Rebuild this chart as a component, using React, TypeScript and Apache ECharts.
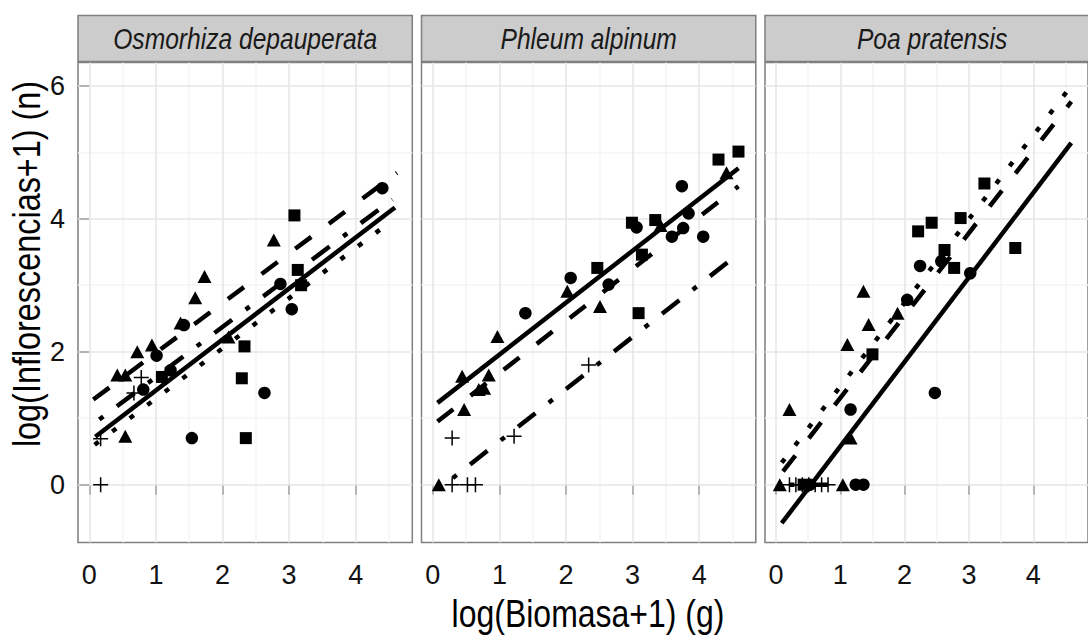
import React, { useEffect, useRef } from "react";
import * as echarts from "echarts";

// ---- tick labels / axes ----
const xTicks = [0, 1, 2, 3, 4];
const yTicks = [0, 2, 4, 6];
const xGridMajor = [0, 1, 2, 3, 4];
const xGridMinor = [0.5, 1.5, 2.5, 3.5, 4.5];
const yGridMajor = [0, 2, 4, 6];
const yGridMinor = [1, 3, 5];
const species = ["Osmorhiza depauperata", "Phleum alpinum", "Poa pratensis"];
const xTitle = "log(Biomasa+1) (g)";
const yTitle = "log(Inflorescencias+1) (n)";

// ---- Osmorhiza depauperata ----
const osmCircle = [[4.40, 4.46], [2.87, 3.02], [3.04, 2.64], [2.63, 1.38], [1.54, 0.70], [1.01, 1.94], [1.42, 2.40], [0.81, 1.43], [1.22, 1.72]];
const osmTriangle = [[2.77, 3.68], [1.73, 3.13], [1.59, 2.81], [1.37, 2.43], [0.72, 2.00], [0.94, 2.10], [0.42, 1.65], [0.54, 1.65], [0.54, 0.73], [2.09, 2.22]];
const osmSquare = [[3.08, 4.05], [3.13, 3.23], [3.18, 3.00], [2.33, 2.08], [2.29, 1.60], [2.35, 0.70], [1.09, 1.62]];
const osmPlus = [[0.17, 0], [0.17, 0.69], [0.67, 1.38], [0.78, 1.61]];
const osmSolid = [[0.09, 0.72], [4.59, 4.17]];
const osmDashed = [[0.06, 1.28], [4.62, 4.69]];
const osmDotted = [[0.08, 0.60], [4.45, 3.90]];
const osmDotDash = [[0.15, 0.98], [4.55, 4.29]];

// ---- Phleum alpinum ----
const phlCircle = [[3.74, 4.49], [3.84, 4.08], [3.06, 3.87], [3.59, 3.73], [3.76, 3.86], [4.06, 3.73], [2.07, 3.11], [2.64, 3.01], [1.39, 2.58]];
const phlTriangle = [[4.41, 4.69], [3.42, 3.90], [2.02, 2.91], [2.51, 2.68], [0.97, 2.23], [0.44, 1.63], [0.84, 1.65], [0.77, 1.45], [0.69, 1.43], [0.47, 1.13], [0.09, 0]];
const phlSquare = [[4.59, 5.01], [4.29, 4.89], [2.99, 3.94], [3.34, 3.98], [3.14, 3.46], [2.47, 3.26], [3.09, 2.58]];
const phlPlus = [[0.29, 0.70], [1.22, 0.73], [2.34, 1.80], [0.29, 0], [0.52, 0], [0.64, 0]];
const phlSolid = [[0.07, 1.23], [4.59, 4.76]];
const phlDashed = [[0.07, 0.95], [4.59, 4.49]];
const phlDotDash = [[0.30, 0.10], [4.51, 3.41]];

// ---- Poa pratensis ----
const poaCircle = [[2.57, 3.36], [2.24, 3.29], [3.02, 3.18], [2.47, 1.38], [2.04, 2.78], [1.16, 1.13], [1.24, 0], [1.36, 0], [0.53, 0]];
const poaTriangle = [[1.89, 2.58], [1.36, 2.91], [1.44, 2.41], [1.11, 2.11], [1.16, 0.70], [0.21, 1.13], [0.06, 0], [1.04, 0]];
const poaSquare = [[3.24, 4.53], [2.87, 4.01], [2.42, 3.94], [2.21, 3.81], [2.62, 3.53], [2.77, 3.26], [3.72, 3.56], [1.50, 1.96], [0.43, 0]];
const poaPlus = [[0.21, 0], [0.31, 0], [0.41, 0], [0.51, 0], [0.61, 0], [0.71, 0], [0.81, 0]];
const poaSolid = [[0.09, -0.58], [4.59, 5.14]];
const poaDotted = [[0.09, 0.33], [4.52, 5.91]];
const poaDashed = [[0.11, 0.20], [4.59, 5.76]];
const poaDotDash = [[0.21, 0], [0.81, 0]];

const panels = [
  { circle: osmCircle, triangle: osmTriangle, square: osmSquare, plus: osmPlus, solid: osmSolid, dashed: osmDashed, dotted: osmDotted, dotdash: osmDotDash },
  { circle: phlCircle, triangle: phlTriangle, square: phlSquare, plus: phlPlus, solid: phlSolid, dashed: phlDashed, dotted: null, dotdash: phlDotDash },
  { circle: poaCircle, triangle: poaTriangle, square: poaSquare, plus: poaPlus, solid: poaSolid, dashed: poaDashed, dotted: poaDotted, dotdash: poaDotDash },
];

const FONT = "'Liberation Sans', Arial, sans-serif";
const NARROW = 0.82;
const PLUS = "path://M0,6.3L14,6.3L14,7.7L0,7.7Z M6.3,0L7.7,0L7.7,14L6.3,14Z";

export default function App() {
  const ref = useRef<HTMLDivElement>(null);
  useEffect(() => {
    document.body.style.margin = "0";
    const chart = echarts.init(ref.current!, null, { renderer: "svg" });
    const lefts = [78, 421.5, 765];
    const top = 62.5;
    const w = 334.3;
    const h = 480;
    const grids: any[] = [];
    const xAxes: any[] = [];
    const yAxes: any[] = [];
    const series: any[] = [];
    const graphics: any[] = [];
    panels.forEach((p, i) => {
      grids.push({ left: lefts[i], top, width: w, height: h, show: true, backgroundColor: "#ffffff", borderColor: "#7f7f7f", borderWidth: 1.5, containLabel: false });
      xAxes.push({
        gridIndex: i, type: "value", min: -0.17, max: 4.85,
        splitLine: { show: false }, axisLine: { show: false },
        axisTick: { show: true, customValues: xTicks, length: 10, lineStyle: { color: "#222", width: 2 } },
        axisLabel: { customValues: xTicks, fontSize: 27, color: "#111", margin: 19, fontFamily: FONT },
      });
      yAxes.push({
        gridIndex: i, type: "value", min: -0.87, max: 6.35,
        splitLine: { show: false }, axisLine: { show: false },
        axisTick: { show: i === 0, customValues: yTicks, length: 10, lineStyle: { color: "#222", width: 2 } },
        axisLabel: { show: i === 0, customValues: yTicks, fontSize: 27, color: "#111", margin: 13, fontFamily: FONT },
      });
      series.push({
        type: "line", xAxisIndex: i, yAxisIndex: i, data: [], silent: true, z: 1,
        markLine: {
          silent: true, symbol: ["none", "none"], label: { show: false }, animation: false, z: 1,
          data: [
            ...xGridMinor.map((v) => ({ xAxis: v, lineStyle: { color: "#f4f4f4", width: 1.5, type: "solid" } })),
            ...yGridMinor.map((v) => ({ yAxis: v, lineStyle: { color: "#f4f4f4", width: 1.5, type: "solid" } })),
            ...xGridMajor.map((v) => ({ xAxis: v, lineStyle: { color: "#e6e6e6", width: 1.5, type: "solid" } })),
            ...yGridMajor.map((v) => ({ yAxis: v, lineStyle: { color: "#e6e6e6", width: 1.5, type: "solid" } })),
          ],
        },
      });
      const sc = (data: number[][], symbol: string, size: any) => ({
        type: "scatter", xAxisIndex: i, yAxisIndex: i, data, symbol, symbolSize: size, z: 3,
        itemStyle: { color: "#000", opacity: 1 }, silent: true,
      });
      series.push(sc(p.circle, "circle", 12.5));
      series.push(sc(p.triangle, "triangle", [14, 13]));
      series.push(sc(p.square, "rect", 12));
      series.push(sc(p.plus, PLUS, 15));
      const ln = (data: number[][] | null, type: any) => {
        if (!data) return;
        series.push({
          type: "line", xAxisIndex: i, yAxisIndex: i, data, symbol: "none", showSymbol: false, z: 4, silent: true,
          lineStyle: { color: "#000", width: 4.5, type, cap: "butt" },
        });
      };
      ln(p.solid, "solid");
      ln(p.dashed, [20, 22]);
      ln(p.dotted, [5, 17]);
      ln(p.dotdash, [5, 17, 22, 17]);
      graphics.push({
        type: "rect", z: 10,
        shape: { x: lefts[i], y: 15.5, width: w, height: 46 },
        style: { fill: "#cccccc", stroke: "#7f7f7f", lineWidth: 1.5 },
      });
      graphics.push({
        type: "text", z: 11, x: lefts[i] + w / 2, y: 39, scaleX: NARROW,
        style: { text: species[i], font: `italic 30px ${FONT}`, fill: "#1a1a1a", align: "center", verticalAlign: "middle" },
      });
    });
    graphics.push({
      type: "text", z: 11, x: 588, y: 614, scaleX: NARROW,
      style: { text: xTitle, font: `39px ${FONT}`, fill: "#000", align: "center", verticalAlign: "middle" },
    });
    graphics.push({
      type: "text", z: 11, x: 26, y: 264, rotation: Math.PI / 2, scaleX: NARROW,
      style: { text: yTitle, font: `39.5px ${FONT}`, fill: "#000", align: "center", verticalAlign: "middle" },
    });
    chart.setOption({
      animation: false,
      backgroundColor: "#ffffff",
      grid: grids,
      xAxis: xAxes,
      yAxis: yAxes,
      series,
      graphic: graphics,
    });
    return () => chart.dispose();
  }, []);
  return <div ref={ref} style={{ width: 1088, height: 638, position: "absolute", left: 0, top: 0 }} />;
}
